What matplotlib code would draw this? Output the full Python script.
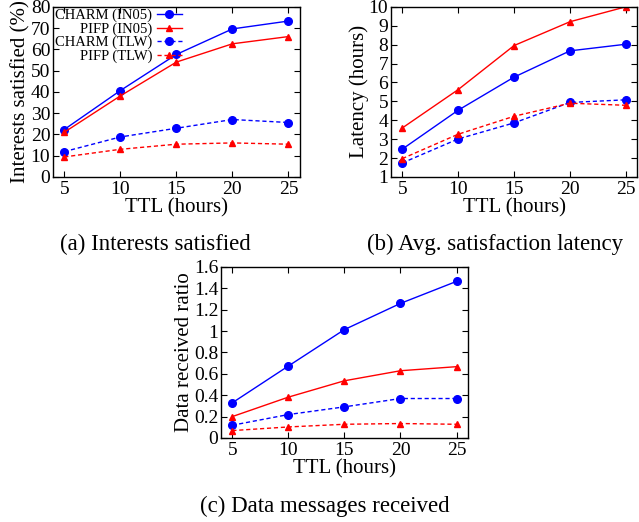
import matplotlib
matplotlib.use("Agg")
import matplotlib.pyplot as plt

plt.rcParams['font.family'] = ['Liberation Serif', 'DejaVu Serif']
plt.rcParams['mathtext.fontset'] = 'stix'

ttl = [5, 10, 15, 20, 25]

# (a) Interests satisfied (%)
sat_charm_in05 = [22.3, 40.6, 57.6, 69.6, 73.3]
sat_pifp_in05 = [21.0, 38.1, 54.0, 62.6, 66.0]
sat_charm_tlw = [11.9, 18.8, 22.9, 27.0, 25.6]
sat_pifp_tlw = [9.4, 13.0, 15.4, 16.0, 15.4]

# (b) Latency (hours)
lat_charm_in05 = [2.47, 4.53, 6.28, 7.67, 8.02]
lat_pifp_in05 = [3.59, 5.62, 7.95, 9.21, 10.0]
lat_charm_tlw = [1.74, 3.01, 3.86, 4.94, 5.08]
lat_pifp_tlw = [1.97, 3.26, 4.21, 4.90, 4.79]

# (c) Data received ratio
dat_charm_in05 = [0.329, 0.673, 1.014, 1.259, 1.465]
dat_pifp_in05 = [0.200, 0.382, 0.535, 0.629, 0.667]
dat_charm_tlw = [0.119, 0.219, 0.291, 0.369, 0.369]
dat_pifp_tlw = [0.069, 0.103, 0.128, 0.135, 0.128]

labels = ['CHARM (IN05)', 'PIFP (IN05)', 'CHARM (TLW)', 'PIFP (TLW)']
colors = ['#0000ff', '#ff0000', '#0000ff', '#ff0000']
markers = ['o', '^', 'o', '^']
styles = ['-', '-', (0, (3, 2)), (0, (3, 2))]
msizes = [5.5, 5, 5.5, 5]

fig = plt.figure(figsize=(6.39, 5.22), dpi=100)

TICK_FS = 14
XLAB_FS = 15
YLAB_FS = 15
CAP_FS = 16.5

def style_axes(ax):
    ax.tick_params(direction='in', top=True, right=True, labelsize=TICK_FS,
                   length=4, width=0.8)
    ax.tick_params(axis='y', pad=2)
    ax.tick_params(axis='x', pad=3)
    for s in ax.spines.values():
        s.set_linewidth(1.0)
    ax.set_xticks(ttl)
    ax.set_xlim(4, 26)
    ax.set_xlabel('TTL (hours)', fontsize=XLAB_FS, labelpad=0)

def draw(ax, series):
    for y, lab, c, m, ls, ms in zip(series, labels, colors, markers, styles, msizes):
        ax.plot(ttl, y, color=c, marker=m, linestyle=ls, markersize=ms,
                linewidth=1.0, label=lab)

ax1 = fig.add_axes([0.083, 0.661, 0.386, 0.326])
draw(ax1, [sat_charm_in05, sat_pifp_in05, sat_charm_tlw, sat_pifp_tlw])
style_axes(ax1)
ax1.set_ylim(0, 80)
ax1.set_yticks(range(0, 81, 10))
ax1.set_ylabel('Interests satisfied (%)', fontsize=YLAB_FS, labelpad=0)
ax1.legend(loc='upper left', markerfirst=False, frameon=False, fontsize=10.5,
           handlelength=1.7, handletextpad=0.3, labelspacing=0.0,
           borderaxespad=0.0, borderpad=0.15)
for t in ax1.get_legend().get_texts():
    t.set_ha('right')
fig.text(0.243, 0.532, '(a) Interests satisfied', ha='center', va='center', fontsize=CAP_FS)

ax2 = fig.add_axes([0.612, 0.661, 0.385, 0.326])
draw(ax2, [lat_charm_in05, lat_pifp_in05, lat_charm_tlw, lat_pifp_tlw])
style_axes(ax2)
ax2.set_ylim(1, 10)
ax2.set_yticks(range(1, 11))
ax2.set_ylabel('Latency (hours)', fontsize=YLAB_FS, labelpad=0)
fig.text(0.775, 0.532, '(b) Avg. satisfaction latency', ha='center', va='center', fontsize=CAP_FS)

ax3 = fig.add_axes([0.346, 0.161, 0.386, 0.3276])
draw(ax3, [dat_charm_in05, dat_pifp_in05, dat_charm_tlw, dat_pifp_tlw])
style_axes(ax3)
ax3.set_ylim(0, 1.6)
ax3.set_yticks([0, 0.2, 0.4, 0.6, 0.8, 1.0, 1.2, 1.4, 1.6])
ax3.set_yticklabels(['0', '0.2', '0.4', '0.6', '0.8', '1', '1.2', '1.4', '1.6'])
ax3.set_ylabel('Data received ratio', fontsize=YLAB_FS, labelpad=0)
fig.text(0.508, 0.029, '(c) Data messages received', ha='center', va='center', fontsize=CAP_FS)

fig.savefig('out.png', dpi=100)
